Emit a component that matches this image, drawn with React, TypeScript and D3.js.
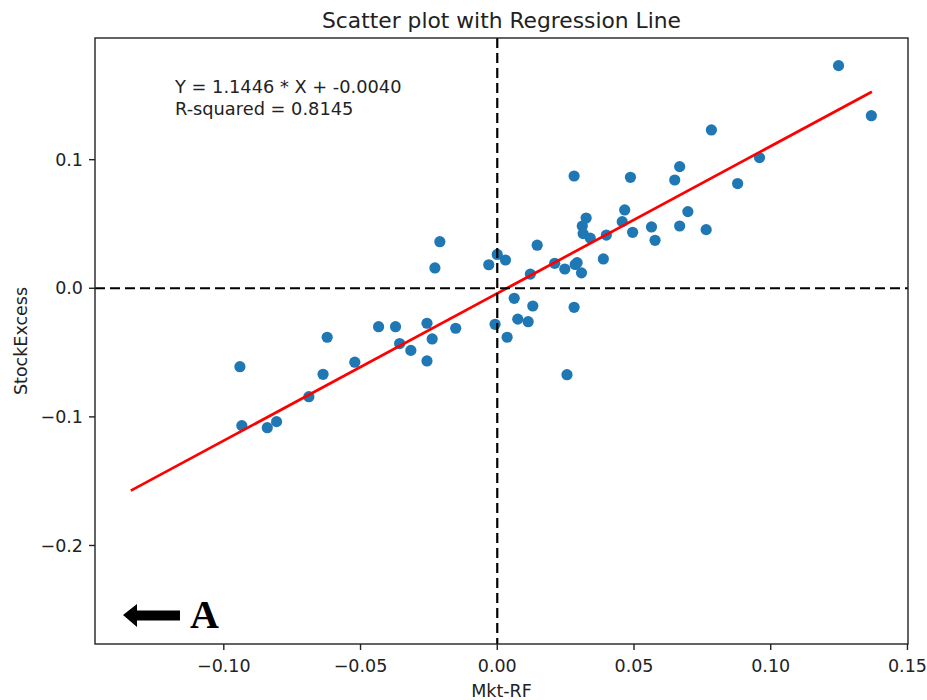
import React from "react";
import * as d3 from "d3";

const mktRF: number[] = [
  -0.0941, -0.0934, -0.0841, -0.0807, -0.0689, -0.0637, -0.0622, -0.0521, -0.0434, -0.0372,
  -0.0357, -0.0316, -0.0257, -0.0257, -0.0238, -0.0228, -0.021, -0.0152, -0.0031, -0.0008,
  0.0, 0.003, 0.0036, 0.0062, 0.0075, 0.0113, 0.0121, 0.013, 0.0146, 0.021,
  0.0247, 0.0255, 0.0281, 0.0281, 0.0285, 0.0292, 0.0308, 0.0311, 0.0314, 0.0325,
  0.034, 0.0388, 0.0399, 0.0457, 0.0466, 0.0487, 0.0495, 0.0564, 0.0577, 0.0649,
  0.0667, 0.0667, 0.0697, 0.0764, 0.0783, 0.0879, 0.0959, 0.1248, 0.1368,
];
const stockExcess: number[] = [
  -0.061, -0.1068, -0.1084, -0.1037, -0.0843, -0.0669, -0.0381, -0.0575, -0.0299, -0.0299,
  -0.043, -0.0483, -0.0272, -0.0565, -0.0394, 0.0158, 0.0362, -0.0311, 0.0183, -0.028,
  0.0263, 0.022, -0.0381, -0.0078, -0.024, -0.026, 0.011, -0.0138, 0.0335, 0.0194,
  0.015, -0.0672, 0.0873, -0.0148, 0.0185, 0.0199, 0.012, 0.0484, 0.0425, 0.0546,
  0.039, 0.0228, 0.0414, 0.0518, 0.0609, 0.0863, 0.0435, 0.0477, 0.0373, 0.0842,
  0.0946, 0.0484, 0.0596, 0.0456, 0.1231, 0.0814, 0.1016, 0.1731, 0.1342,
];

const slope = 1.1446;
const intercept = -0.004;
const rSquared = 0.8145;
const lineXRange: number[] = [-0.134, 0.137];

const xTicks: number[] = [-0.1, -0.05, 0.0, 0.05, 0.1, 0.15];
const yTicks: number[] = [-0.2, -0.1, 0.0, 0.1];

const W = 927;
const H = 700;
const left = 95;
const right = 908;
const top = 38;
const bottom = 644;

const font = "'DejaVu Sans', sans-serif";

export default function App() {
  const x = d3.scaleLinear().domain([-0.1471, 0.1502]).range([left, right]);
  const y = d3.scaleLinear().domain([-0.2766, 0.1946]).range([bottom, top]);
  const fmtX = (v: number) => d3.format(".2f")(v).replace("-", "\u2212");
  const fmtY = (v: number) => d3.format(".1f")(v).replace("-", "\u2212");
  const line = d3
    .line<number>()
    .x((d) => x(d))
    .y((d) => y(slope * d + intercept));

  return (
    <svg
      width={W}
      height={H}
      style={{ position: "absolute", left: 0, top: 0, background: "#fff" }}
      fontFamily={font}
    >
      <rect x={0} y={0} width={W} height={H} fill="#fff" />
      <text x={(left + right) / 2} y={28} textAnchor="middle" fontSize={21.8} fill="#222">
        Scatter plot with Regression Line
      </text>

      {mktRF.map((v, i) => (
        <circle key={i} cx={x(v)} cy={y(stockExcess[i])} r={5.6} fill="#1f77b4" />
      ))}

      <path d={line(lineXRange) || ""} stroke="red" strokeWidth={2.7} fill="none" />

      <line x1={left} x2={right} y1={y(0)} y2={y(0)} stroke="#000" strokeWidth={2.2} strokeDasharray="10,5" />
      <line x1={x(0)} x2={x(0)} y1={top} y2={bottom} stroke="#000" strokeWidth={2.2} strokeDasharray="10,5" />

      <text x={175} y={93} fontSize={17.8} fill="#222">
        {`Y = ${slope.toFixed(4)} * X + ${intercept.toFixed(4)}`}
      </text>
      <text x={175} y={115} fontSize={17.8} fill="#222">
        {`R-squared = ${rSquared.toFixed(4)}`}
      </text>

      <rect x={left} y={top} width={right - left} height={bottom - top} fill="none" stroke="#222" strokeWidth={1.4} />

      {xTicks.map((t) => (
        <g key={t}>
          <line x1={x(t)} x2={x(t)} y1={bottom} y2={bottom + 6} stroke="#222" strokeWidth={1.4} />
          <text x={x(t)} y={672} textAnchor="middle" fontSize={17.5} fill="#222">
            {fmtX(t)}
          </text>
        </g>
      ))}
      {yTicks.map((t) => (
        <g key={t}>
          <line x1={left - 6} x2={left} y1={y(t)} y2={y(t)} stroke="#222" strokeWidth={1.4} />
          <text x={83} y={y(t)} dy="0.35em" textAnchor="end" fontSize={17.5} fill="#222">
            {fmtY(t)}
          </text>
        </g>
      ))}

      <text x={(left + right) / 2} y={697} textAnchor="middle" fontSize={17.5} fill="#222">
        Mkt-RF
      </text>
      <text
        transform={`translate(27, ${(top + bottom) / 2}) rotate(-90)`}
        textAnchor="middle"
        fontSize={17.5}
        fill="#222"
      >
        StockExcess
      </text>

      <path d="M123,615 L137,604 L137,610.5 L180,610.5 L180,620.5 L137,620.5 L137,627 Z" fill="#000" />
      <text x={190} y={628} fontSize={40} fontWeight="bold" fontFamily="'Liberation Serif', 'Times New Roman', serif" fill="#000">
        A
      </text>
    </svg>
  );
}
